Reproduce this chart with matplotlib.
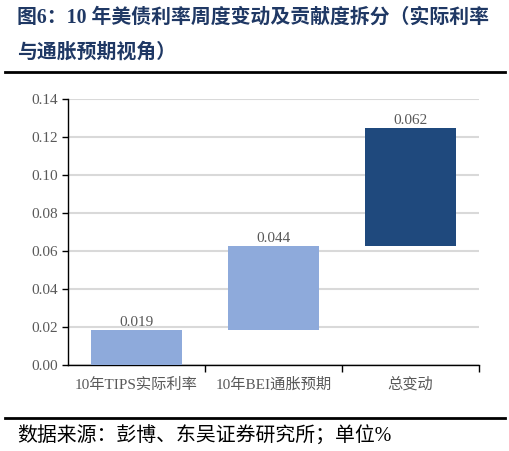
import matplotlib.pyplot as plt

plt.rcParams['font.family'] = ['Liberation Serif', 'Noto Sans CJK SC', 'DejaVu Sans']

# 数据
categories = ['10年TIPS实际利率', '10年BEI通胀预期', '总变动']
values = [0.0186, 0.0438, 0.0624]
bottoms = [0.0, 0.0186, 0.0624]
labels = ['0.019', '0.044', '0.062']
colors = ['#8EAADB', '#8EAADB', '#1F497D']
yticks = [0.00, 0.02, 0.04, 0.06, 0.08, 0.10, 0.12, 0.14]

fig = plt.figure(figsize=(5.10, 4.51), dpi=100)
ax = fig.add_axes([0.1333, 0.1907, 0.8057, 0.5898])

x = range(len(categories))
ax.bar(x, values, bottom=bottoms, width=0.66, color=colors, zorder=3)
for i in x:
    ax.text(i, bottoms[i] + values[i] + 0.0005, labels[i], ha='center', va='bottom',
            fontsize=11, color='#595959', zorder=4)

ax.set_xlim(-0.5, 2.5)
ax.set_ylim(0, 0.14)
ax.set_yticks(yticks)
ax.set_yticklabels(['%.2f' % t for t in yticks])
ax.yaxis.grid(True, color='#D9D9D9', linewidth=1.5, zorder=0)
ax.set_axisbelow(True)

ax.set_xticks([0.5, 1.5, 2.5], minor=False)
ax.set_xticklabels([])
ax.set_xticks(list(x), minor=True)
ax.set_xticklabels(categories, minor=True)
ax.tick_params(axis='x', which='minor', length=0, pad=9, labelsize=11, labelcolor='#595959')
ax.tick_params(axis='x', which='major', length=5, width=1, direction='out', color='black')
ax.tick_params(axis='y', length=4, width=1, direction='out', labelsize=11,
               labelcolor='#595959', color='black')
for s in ['top', 'right']:
    ax.spines[s].set_visible(False)
for s in ['left', 'bottom']:
    ax.spines[s].set_color('black')
    ax.spines[s].set_linewidth(1)

# 标题与来源
fig.text(0.033, 0.96, '图6：10 年美债利率周度变动及贡献度拆分（实际利率', fontsize=14.3,
         fontweight='bold', color='#1F3864', va='center', ha='left')
fig.text(0.033, 0.882, '与通胀预期视角）', fontsize=14.3,
         fontweight='bold', color='#1F3864', va='center', ha='left')
fig.add_artist(plt.Line2D([0.01, 0.99], [0.84, 0.84], color='black', linewidth=2))
fig.add_artist(plt.Line2D([0.01, 0.99], [0.073, 0.073], color='black', linewidth=2))
fig.text(0.033, 0.035, '数据来源：彭博、东吴证券研究所；单位%', fontsize=14.3,
         color='black', va='center', ha='left')

fig.savefig('out.png', dpi=100)
